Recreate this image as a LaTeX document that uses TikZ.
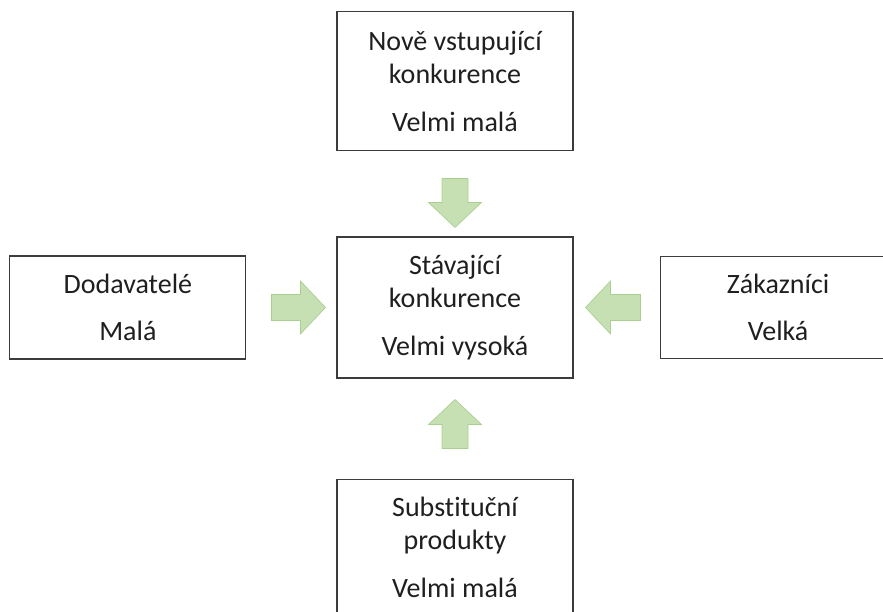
\documentclass[tikz,border=0pt]{standalone}
\usepackage{fontspec}
\setmainfont{Carlito}[Ligatures={NoCommon,NoContextual}]
\usetikzlibrary{positioning,calc}
\definecolor{arrowfill}{RGB}{198,224,180}
\definecolor{arrowline}{RGB}{170,208,144}
\definecolor{boxline}{RGB}{60,60,60}
\tikzset{
  box/.style={draw=boxline, line width=1.1pt, minimum width=236pt, inner sep=0pt,
    align=center, text=black!88, font=\fontsize{28}{33.5}\selectfont},
  fat/.style={fill=arrowfill, draw=arrowline, line width=0.7pt, line join=miter, to path={
    ($(\tikztostart)!13pt!90:(\tikztotarget)$)
    -- ($(\tikztotarget)!25pt!(\tikztostart)!13pt!90:(\tikztotarget)$)
    -- ($(\tikztotarget)!25pt!(\tikztostart)!26.5pt!90:(\tikztotarget)$)
    -- (\tikztotarget)
    -- ($(\tikztotarget)!25pt!(\tikztostart)!26.5pt!-90:(\tikztotarget)$)
    -- ($(\tikztotarget)!25pt!(\tikztostart)!13pt!-90:(\tikztotarget)$)
    -- ($(\tikztostart)!13pt!-90:(\tikztotarget)$) -- cycle}}
}
\begin{document}
\begin{tikzpicture}[x=1pt,y=-1pt]
\useasboundingbox (0,0) rectangle (883,612);
\clip (0,0) rectangle (883,612);
\node[box, minimum height=141pt] (cur) at (455,307.5) {Stávající\\konkurence\\[14pt]Velmi vysoká};
\node[box, minimum height=139pt, above=85pt of cur] (ent) {Nově vstupující\\konkurence\\[14pt]Velmi malá};
\node[box, minimum height=136pt, below=100pt of cur] (sub) {Substituční\\produkty\\[14pt]Velmi malá};
\node[box, minimum height=103pt, left=90pt of cur] (sup) {Dodavatelé\\[14pt]Malá};
\node[box, minimum height=102pt, right=86pt of cur] (cus) {Zákazníci\\[14pt]Velká};
\coordinate (t1) at ($(ent.south)+(0,27)$);
\coordinate (h1) at ($(cur.north)+(0,-9)$);
\coordinate (t2) at ($(sup.east)+(25,0)$);
\coordinate (h2) at ($(cur.west)+(-11,0)$);
\coordinate (t3) at ($(cus.west)+(-19,0)$);
\coordinate (h3) at ($(cur.east)+(12,0)$);
\coordinate (t4) at ($(sub.north)+(0,-30)$);
\coordinate (h4) at ($(cur.south)+(0,21)$);
\foreach \i in {1,...,4} \draw[fat] (t\i) to (h\i);
\end{tikzpicture}
\end{document}
